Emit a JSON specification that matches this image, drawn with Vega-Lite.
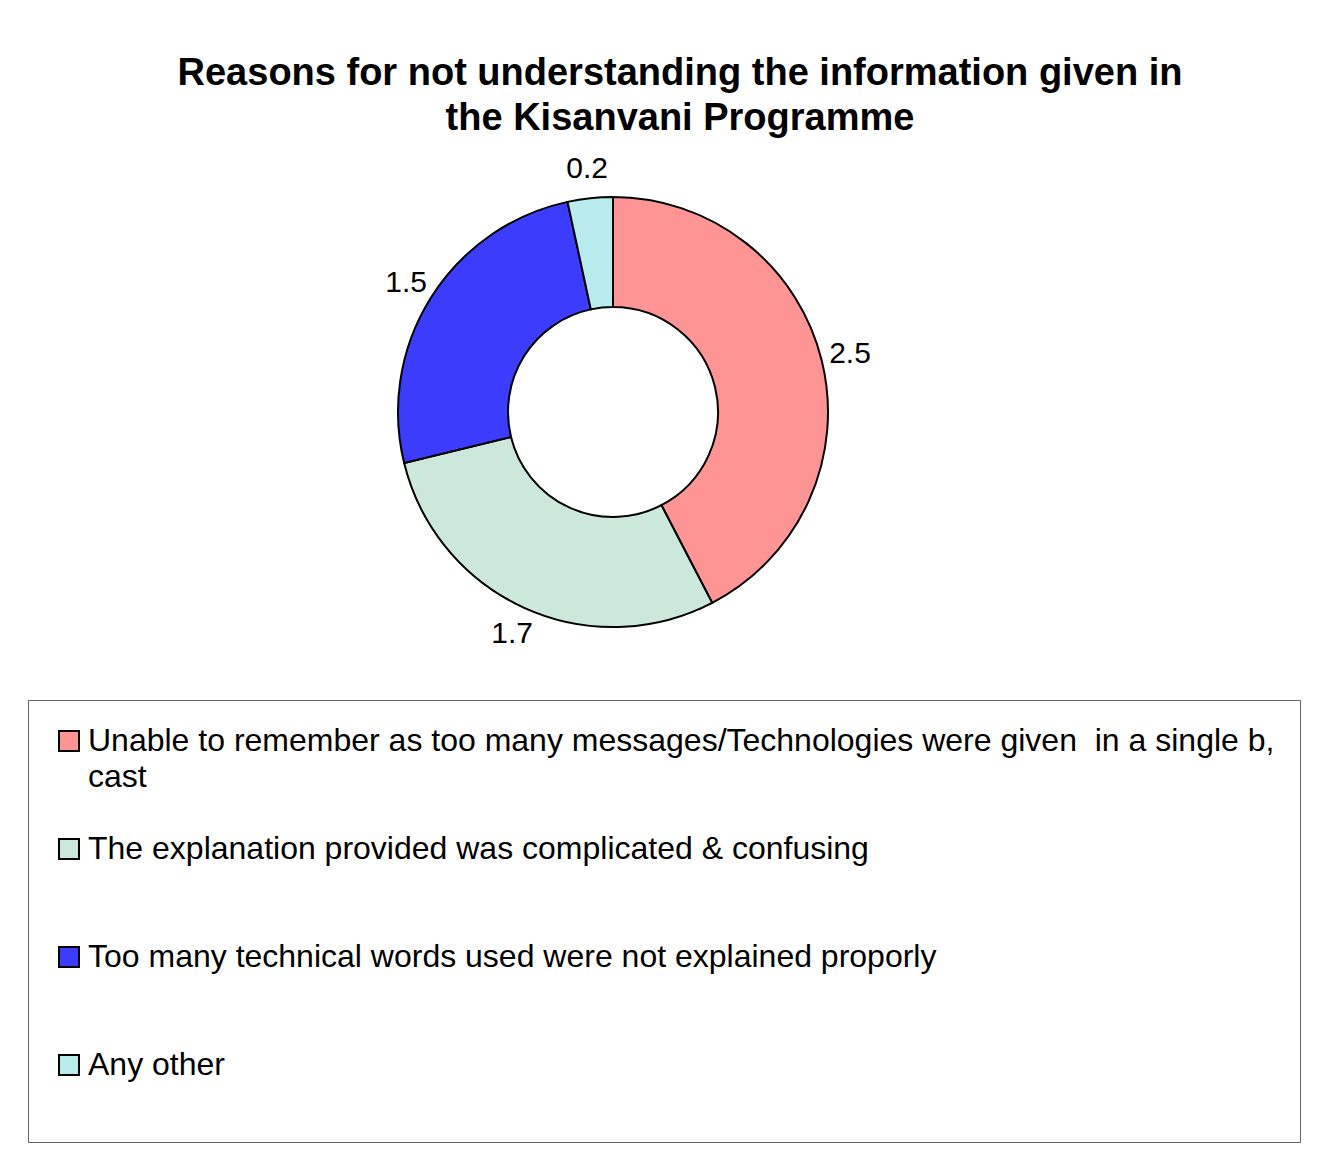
{
  "$schema": "https://vega.github.io/schema/vega-lite/v6.json",
  "autosize": "none",
  "width": 1226,
  "height": 524,
  "padding": {"left": 0, "top": 150, "right": 114, "bottom": 484},
  "background": "white",
  "title": {
    "text": ["Reasons for not understanding the information given in", "the Kisanvani Programme"],
    "font": "Liberation Sans",
    "fontSize": 38,
    "fontWeight": "bold",
    "lineHeight": 45,
    "anchor": "middle",
    "dx": 67,
    "offset": 12,
    "color": "black"
  },
  "data": {
    "values": [
      {"idx": 1, "reason": "Unable to remember as too many messages/Technologies were given  in a single b, cast", "value": 2.5},
      {"idx": 2, "reason": "The explanation provided was complicated & confusing", "value": 1.7},
      {"idx": 3, "reason": "Too many technical words used were not explained proporly", "value": 1.5},
      {"idx": 4, "reason": "Any other", "value": 0.2}
    ]
  },
  "encoding": {
    "theta": {"field": "value", "type": "quantitative", "stack": true},
    "order": {"field": "idx", "type": "quantitative"}
  },
  "layer": [
    {
      "mark": {"type": "arc", "outerRadius": 215, "innerRadius": 105, "stroke": "black", "strokeWidth": 2},
      "encoding": {
        "color": {
          "field": "reason",
          "type": "nominal",
          "sort": null,
          "scale": {
            "domain": [
              "Unable to remember as too many messages/Technologies were given  in a single b, cast",
              "The explanation provided was complicated & confusing",
              "Too many technical words used were not explained proporly",
              "Any other"
            ],
            "range": ["#ff9494", "#cce8da", "#3c3cff", "#b8ecec"]
          },
          "legend": {
            "orient": "none",
            "legendX": 28,
            "legendY": 550,
            "direction": "vertical",
            "title": null,
            "padding": 25,
            "strokeColor": "#666666",
            "fillColor": "white",
            "symbolType": "square",
            "symbolSize": 400,
            "symbolStrokeColor": "black",
            "symbolStrokeWidth": 2,
            "symbolOpacity": 1,
            "labelFont": "Liberation Sans",
            "labelFontSize": 32,
            "labelColor": "black",
            "labelLimit": 1300,
            "labelOffset": 3,
            "rowPadding": 40,
            "labelExpr": "datum.label == 'Unable to remember as too many messages/Technologies were given  in a single b, cast' ? ['Unable to remember as too many messages/Technologies were given\u00a0 in a single b,', 'cast'] : [datum.label, '']"
          }
        }
      }
    },
    {
      "mark": {"type": "text", "radius": 244, "fontSize": 30, "font": "Liberation Sans", "color": "black"},
      "encoding": {
        "text": {"field": "value", "type": "quantitative", "format": ".1f"}
      }
    }
  ],
  "config": {
    "view": {"stroke": null},
    "style": {"guide-label": {"lineHeight": 36}}
  }
}
